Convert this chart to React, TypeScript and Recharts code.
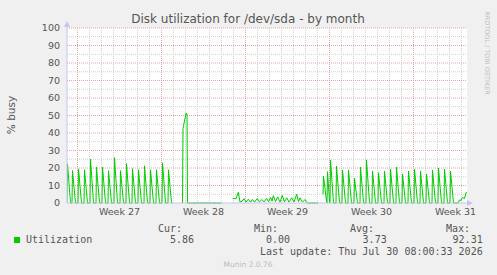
import { LineChart, Line, XAxis, YAxis, ReferenceLine, CartesianGrid } from "recharts";

document.body.style.margin = "0";

// x is hours since the left edge of the graph (33 days shown, 800 h wide)
const weekLabels = ["Week 27", "Week 28", "Week 29", "Week 30", "Week 31"];
const weekLabelHours = [105, 273, 441, 609, 777];
const weekStartHours = [21, 189, 357, 525, 693];
const yTicks = [0, 10, 20, 30, 40, 50, 60, 70, 80, 90, 100];
const yMinor = [5, 15, 25, 35, 45, 55, 65, 75, 85, 95];

// twice-daily busy spikes: [hour, peak %]
const spikesEarly: [number, number][] = [
  [0, 22.4], [10, 18.5], [22, 19.5], [34, 19], [46, 25.1], [58, 20.6], [70, 20.6],
  [82, 18.5], [94, 25.9], [106, 18.5], [118, 22.5], [130, 19.6], [142, 19], [154, 21.3],
  [166, 19], [178, 19], [190, 23], [202, 19],
];
const burstHours = [231, 232, 238, 240, 241, 309];
const burstValues = [0, 42.5, 51.3, 51, 0, 0];
const lowHours = [
  331, 338, 342.6, 346, 350, 354, 358, 362.6, 367, 370.6, 375, 380.6, 385, 390, 394, 399.4,
  403, 407.4, 410, 412.6, 417, 421.4, 426, 430.6, 435, 439.4, 444, 449.4, 454, 459.4, 463,
  466, 471, 476, 480.6, 502,
];
const lowValues = [
  2.5, 2.5, 6.1, 0.5, 1, 2.5, 0.5, 2.2, 0.5, 2, 0.5, 2.6, 0.6, 2, 0.6, 2.6,
  0.8, 3.2, 1, 4.2, 0.8, 3.5, 0.5, 4.4, 0.6, 3, 0.5, 3, 0.6, 5, 0.8,
  3, 0.5, 2, 0, 0,
];
const restartHours = [512, 513, 519, 520, 521, 525];
const restartValues = [5, 15.4, 1, 0, 17.9, 1];
const spikesLate: [number, number][] = [
  [526, 24.6], [538, 21.1], [550, 18.9], [562, 18.9], [574, 14.1], [586, 20.6], [598, 24.6],
  [610, 18.3], [622, 17.3], [634, 18.3], [646, 19.4], [658, 20.6], [670, 16.6], [682, 18.3],
  [694, 19.4], [706, 18.3], [718, 16.6], [730, 18.9], [742, 20], [754, 19.4], [766, 18.3],
];
const tailHours = [782, 785, 788, 791, 795, 798, 800];
const tailValues = [0, 1.7, 1.5, 3.2, 2.5, 5.9, 5.86];
const gapHours = [220, 320, 507];

type Row = { h: number; v: number | null };
const rows: Row[] = [];
const addSpikes = (s: [number, number][]) =>
  s.forEach(([t, p]) => rows.push({ h: t, v: 0 }, { h: t + 1, v: p }, { h: t + 7, v: 0 }));
const addPoints = (hs: number[], vs: number[]) => hs.forEach((h, i) => rows.push({ h, v: vs[i] }));
addSpikes(spikesEarly);
rows.push({ h: 211, v: 0 });
addPoints(gapHours.slice(0, 1), [null as any]);
addPoints(burstHours, burstValues);
addPoints(gapHours.slice(1, 2), [null as any]);
addPoints(lowHours, lowValues);
addPoints(gapHours.slice(2, 3), [null as any]);
addPoints(restartHours, restartValues);
addSpikes(spikesLate);
addPoints(tailHours, tailValues);

const dayLines = weekStartHours[0] === 21 ? Array.from({ length: 33 }, (_, k) => 21 + 24 * k) : [];
const minorDays = dayLines.filter(h => !weekStartHours.includes(h));

const AXIS = "#c4c4f0";
const MINOR = "#cfcfcf";
const MAJOR = "#e4a4a4";
const FONT = "DejaVu Sans";
const MONO = "DejaVu Sans Mono";

export default function App() {
  return (
    <div style={{ position: "relative", width: 497, height: 275, background: "#f0f0f0", overflow: "hidden" }}>
      <LineChart width={497} height={275} data={rows} margin={{ top: 28, right: 30, left: 0, bottom: 52 }}>
        <CartesianGrid fill="#ffffff" horizontal={false} vertical={false} stroke="none" />
        {minorDays.map(h => (
          <ReferenceLine key={"d" + h} x={h} stroke={MINOR} strokeDasharray="1 1" />
        ))}
        {yMinor.map(v => (
          <ReferenceLine key={"m" + v} y={v} stroke={MINOR} strokeDasharray="1 1" />
        ))}
        {weekStartHours.map(h => (
          <ReferenceLine key={"w" + h} x={h} stroke={MAJOR} strokeDasharray="1 1" />
        ))}
        {yTicks.filter(v => v > 0).map(v => (
          <ReferenceLine key={"y" + v} y={v} stroke={MAJOR} strokeDasharray="1 1" />
        ))}
        <XAxis dataKey="h" type="number" domain={[0, 800]} ticks={weekLabelHours} allowDataOverflow
               tickFormatter={(h: number) => weekLabels[weekLabelHours.indexOf(h)]}
               height={20} tickLine={false} tickSize={3} tickMargin={2}
               axisLine={{ stroke: AXIS }}
               tick={{ fill: "#555", fontSize: 9.5, fontFamily: FONT }} />
        <YAxis type="number" domain={[0, 100]} ticks={yTicks} width={67} interval={0}
               tickLine={false} tickSize={4} tickMargin={3}
               axisLine={{ stroke: AXIS }}
               tick={{ fill: "#555", fontSize: 9.5, fontFamily: FONT }} />
        <Line type="linear" dataKey="v" stroke="#00cc00" strokeWidth={1} dot={false}
              connectNulls={false} isAnimationActive={false} />
      </LineChart>
      <svg width={497} height={275} style={{ position: "absolute", left: 0, top: 0, pointerEvents: "none" }}>
        <polygon points="64,27 70,27 67,21" fill={AXIS} />
        <polygon points="467,200 467,206 473,203" fill={AXIS} />
        <text x={248} y={23} textAnchor="middle" fontSize={12} fill="#555" fontFamily={FONT}>
          Disk utilization for /dev/sda - by month
        </text>
        <text transform="translate(15,115) rotate(-90)" textAnchor="middle" fontSize={10.5} fill="#555" fontFamily={FONT}>
          % busy
        </text>
        <text transform="translate(485,53) rotate(90)" textAnchor="middle" fontSize={6.5} fill="#c0c0c0" fontFamily={FONT}>
          RRDTOOL / TOBI OETIKER
        </text>
        <rect x={14} y={237} width={6} height={6} fill="#00cc00" />
        <g fontFamily={MONO} fontSize={10} fill="#555">
          <text x={26} y={243}>Utilization</text>
          <text x={182} y={231.5} textAnchor="end">Cur:</text>
          <text x={194} y={243} textAnchor="end">5.86</text>
          <text x={278} y={231.5} textAnchor="end">Min:</text>
          <text x={290} y={243} textAnchor="end">0.00</text>
          <text x={374} y={231.5} textAnchor="end">Avg:</text>
          <text x={386.7} y={243} textAnchor="end">3.73</text>
          <text x={470} y={231.5} textAnchor="end">Max:</text>
          <text x={482.7} y={243} textAnchor="end">92.31</text>
          <text x={482.7} y={254.5} textAnchor="end">Last update: Thu Jul 30 08:00:33 2026</text>
        </g>
        <text x={248} y={267} textAnchor="middle" fontSize={7.5} fill="#bbb" fontFamily={FONT}>
          Munin 2.0.76
        </text>
      </svg>
    </div>
  );
}
